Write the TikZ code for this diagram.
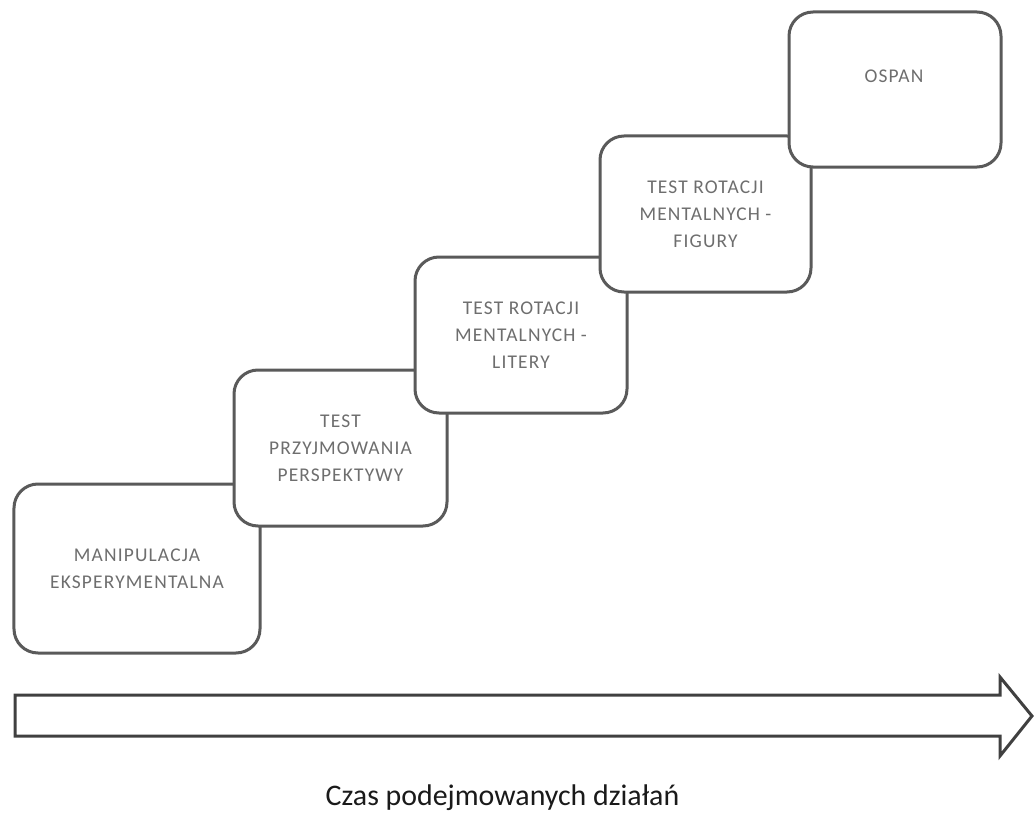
\documentclass[tikz,border=0pt]{standalone}
\usepackage{fontspec}
\setmainfont{Carlito}
\newfontfamily\boxfont[LetterSpace=6]{Carlito}
\definecolor{boxline}{HTML}{5A5A5A}
\definecolor{boxtext}{HTML}{6E6E6E}
\definecolor{arrowline}{HTML}{404040}
\definecolor{captext}{HTML}{1A1A1A}
\begin{document}
\begin{tikzpicture}[x=1bp,y=-1bp,
  stepbox/.style={draw=boxline, line width=3bp, fill=white, rounded corners=24bp,
    inner sep=0pt, align=center, text=boxtext,
    font=\boxfont\fontsize{19.5}{27}\selectfont},
  boxlabel/.style={inner sep=0pt, align=center, text=boxtext, font=\boxfont\fontsize{19.5}{27}\selectfont},
  timearrow/.style={draw=arrowline, line width=3bp, line join=miter, fill=white},
  caption/.style={inner sep=0pt, text=captext, font=\fontsize{30}{34}\selectfont}]
\useasboundingbox (0,0) rectangle (1035,814);
\node[stepbox, minimum width=246bp, minimum height=169bp] (b1) at (137,568.5) {MANIPULACJA\\EKSPERYMENTALNA};
\node[stepbox, minimum width=213bp, minimum height=156bp] (b2) at (340.5,448) {TEST\\PRZYJMOWANIA\\PERSPEKTYWY};
\node[stepbox, minimum width=212bp, minimum height=156bp] (b3) at (521,335) {TEST ROTACJI\\MENTALNYCH -\\LITERY};
\node[stepbox, minimum width=211bp, minimum height=156bp] (b4) at (705.5,214) {TEST ROTACJI\\MENTALNYCH -\\FIGURY};
\node[stepbox, minimum width=212bp, minimum height=155bp] (b5) at (895,89.5) {};
\node[boxlabel] (t5) at (894,76) {OSPAN};
\draw[timearrow] (15,695) -- (1000,695) -- (1000,677) -- (1032,716) -- (1000,756) -- (1000,736) -- (15,736) -- cycle;
\node[caption, anchor=base] (cap) at (502.5,805) {Czas podejmowanych działań};
\end{tikzpicture}
\end{document}
